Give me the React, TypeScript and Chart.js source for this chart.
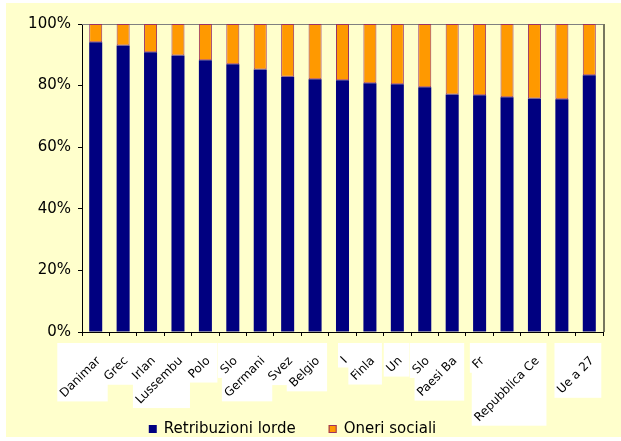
import React, { useEffect, useRef } from "react";
import { Chart, registerables } from "chart.js";

Chart.register(...registerables);

// ---- data ----
const categories = [
  "Danimarca", "Grecia", "Irlanda", "Lussemburgo", "Polonia", "Slovenia",
  "Germania", "Svezia", "Belgio", "Italia", "Finlandia", "Ungheria",
  "Slovacchia", "Paesi Bassi", "Francia", "Spagna", "Repubblica Ceca",
  "Austria", "Ue a 27",
];
// tick labels as they are visible (clipped) in the picture
const axisLabels = [
  "Danimar", "Grec", "Irlan", "Lussembu", "Polo", "Slo",
  "Germani", "Svez", "Belgio", "I", "Finla", "Un",
  "Slo", "Paesi Ba", "Fr", "", "Repubblica Ce",
  "", "Ue a 27",
];
const retribuzioniLorde = [
  94.1, 93.0, 90.8, 89.8, 88.2, 86.9, 85.2, 82.9, 82.1, 81.7,
  80.8, 80.4, 79.5, 77.1, 76.9, 76.2, 75.8, 75.6, 83.4,
];
const oneriSociali = [
  5.9, 7.0, 9.2, 10.2, 11.8, 13.1, 14.8, 17.1, 17.9, 18.3,
  19.2, 19.6, 20.5, 22.9, 23.1, 23.8, 24.2, 24.4, 16.6,
];
const yTicks = [0, 20, 40, 60, 80, 100];
const seriesNames = ["Retribuzioni lorde", "Oneri sociali"];

const FONT = "'DejaVu Sans', Verdana, sans-serif";

const framePlugin = {
  id: "frame",
  beforeDatasetsDraw(chart: any) {
    const { ctx, chartArea } = chart;
    const { left, right, top, bottom } = chartArea;
    ctx.save();
    ctx.strokeStyle = "#808080";
    ctx.lineWidth = 1;
    ctx.beginPath();
    ctx.moveTo(left, top + 0.5);
    ctx.lineTo(right + 2, top + 0.5);
    ctx.stroke();
    ctx.lineWidth = 2;
    ctx.strokeStyle = "#77775f";
    ctx.beginPath();
    ctx.moveTo(right + 1, top);
    ctx.lineTo(right + 1, bottom);
    ctx.stroke();
    ctx.restore();
  },
};

const xLabelPlugin = {
  id: "xLabels",
  afterDraw(chart: any) {
    const { ctx, chartArea, scales } = chart;
    const xs = scales.x;
    const c = Math.SQRT1_2;
    ctx.save();
    ctx.font = `12px ${FONT}`;
    const items = axisLabels.map((txt, i) => {
      const cx = xs.getPixelForValue(i);
      const ex = cx + 3;
      const ey = chartArea.bottom + 27;
      const p = txt ? ctx.measureText(txt).width * c : 0;
      return { txt, ex, ey, p };
    });
    // white label boxes first
    ctx.fillStyle = "#ffffff";
    items.forEach(({ txt, ex, ey, p }) => {
      if (!txt) return;
      const left = ex - p - 5;
      const right = ex + 9;
      const top = chartArea.bottom + 11;
      const bottom = ey + p + 6;
      ctx.fillRect(left, top, right - left, bottom - top);
    });
    // then the rotated texts
    items.forEach(({ txt, ex, ey }) => {
      if (!txt) return;
      ctx.save();
      ctx.translate(ex, ey);
      ctx.rotate(-Math.PI / 4);
      ctx.fillStyle = "#000000";
      ctx.textAlign = "right";
      ctx.textBaseline = "middle";
      ctx.fillText(txt, 0, 0);
      ctx.restore();
    });
    ctx.restore();
  },
};

const legendPlugin = {
  id: "customLegend",
  afterDraw(chart: any) {
    const { ctx } = chart;
    ctx.save();
    ctx.font = `15px ${FONT}`;
    const box = 8;
    const gapText = 7;
    const gapItem = 33;
    const items = chart.data.datasets.map((ds: any) => ({
      label: ds.label,
      fill: ds.backgroundColor,
      stroke: ds.borderColor,
      bw: ds.borderWidth,
    }));
    const widths = items.map((it: any) => box + gapText + ctx.measureText(it.label).width);
    const total = widths.reduce((a: number, b: number) => a + b, 0) + gapItem * (items.length - 1);
    let x = chart.width / 2 - 21 - total / 2;
    const y = chart.height - 8;
    items.forEach((it: any, k: number) => {
      ctx.fillStyle = it.fill;
      ctx.fillRect(x, y - box / 2, box, box);
      if (it.bw) {
        ctx.strokeStyle = it.stroke;
        ctx.lineWidth = 1;
        ctx.strokeRect(x + 0.5, y - box / 2 + 0.5, box - 1, box - 1);
      }
      ctx.fillStyle = "#000000";
      ctx.textAlign = "left";
      ctx.textBaseline = "middle";
      ctx.fillText(it.label, x + box + gapText, y);
      x += widths[k] + gapItem;
    });
    ctx.restore();
  },
};

export default function App() {
  const ref = useRef<HTMLCanvasElement | null>(null);

  useEffect(() => {
    if (!ref.current) return;
    Chart.defaults.font.family = FONT;
    const chart = new Chart(ref.current, {
      type: "bar",
      data: {
        labels: categories,
        datasets: [
          {
            label: seriesNames[0],
            data: retribuzioniLorde,
            backgroundColor: "#000080",
            borderColor: "#000080",
            borderWidth: 0,
            categoryPercentage: 0.5,
            barPercentage: 0.95,
          },
          {
            label: seriesNames[1],
            data: oneriSociali,
            backgroundColor: "#FF9900",
            borderColor: "#993366",
            borderWidth: 1,
            borderSkipped: false,
            categoryPercentage: 0.5,
            barPercentage: 0.95,
          },
        ],
      },
      options: {
        responsive: false,
        animation: false,
        layout: { padding: { top: 21, right: 18, left: 0, bottom: 0 } },
        plugins: {
          legend: { display: false },
          tooltip: { enabled: true },
        },
        scales: {
          x: {
            stacked: true,
            ticks: { display: false },
            grid: { drawOnChartArea: false, tickLength: 4, color: "#000000", offset: true },
            border: { color: "#000000", width: 1 },
            afterFit: (s: any) => {
              s.height = 105;
            },
          },
          y: {
            stacked: true,
            min: 0,
            max: 100,
            afterBuildTicks: (s: any) => {
              s.ticks = yTicks.map((v) => ({ value: v }));
            },
            ticks: {
              callback: (v: any) => `${v}%`,
              color: "#000000",
              font: { size: 15, family: FONT },
              padding: 7,
            },
            grid: { drawOnChartArea: false, tickLength: 4, color: "#000000" },
            border: { color: "#000000", width: 1 },
            afterFit: (s: any) => {
              s.width = 76;
            },
          },
        },
      },
      plugins: [framePlugin, xLabelPlugin, legendPlugin],
    });
    return () => chart.destroy();
  }, []);

  return (
    <div
      style={{
        position: "absolute",
        left: 6,
        top: 3,
        width: 615,
        height: 434,
        background: "#FFFFCC",
      }}
    >
      <canvas ref={ref} width={615} height={434} style={{ display: "block" }} />
    </div>
  );
}
